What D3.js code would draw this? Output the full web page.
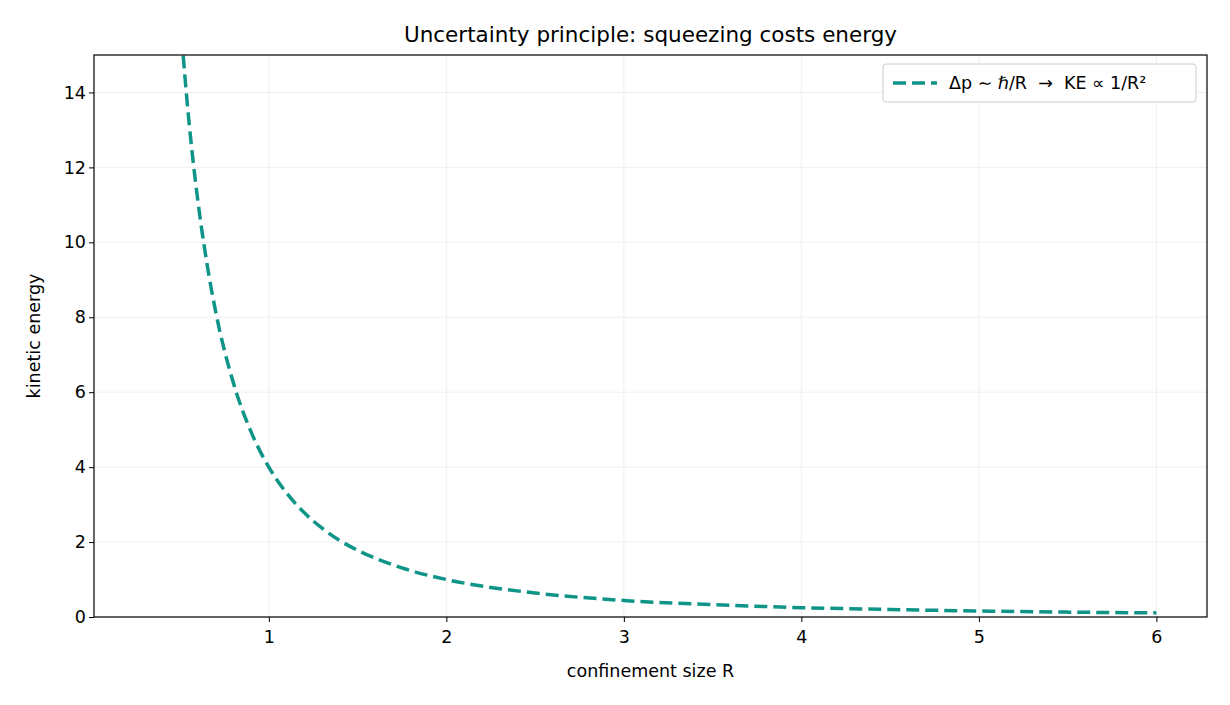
<!DOCTYPE html>
<html><head><meta charset="utf-8">
<script src="https://cdn.jsdelivr.net/npm/d3@7"></script>
<style>body{margin:0;background:#fff;font-family:"DejaVu Sans",sans-serif;}</style>
</head><body>
<svg id="chart" width="1230" height="705"></svg>
<script>
// values
var sizeR = [0.5,0.55,0.6,0.65,0.7,0.8,0.9,1.0,1.1,1.2,1.3,1.4,1.5,1.75,2,2.25,2.5,3,3.5,4,4.5,5,5.5,6];
var energy = [16,13.22,11.11,9.47,8.16,6.25,4.94,4,3.31,2.78,2.37,2.04,1.78,1.31,1,0.79,0.64,0.44,0.33,0.25,0.2,0.16,0.13,0.11];
var xTicks = [1,2,3,4,5,6];
var yTicks = [0,2,4,6,8,10,12,14];

var svg = d3.select("#chart");
var L = 94, R = 1207, T = 55, B = 617;
var x = d3.scaleLinear().domain([0.015, 6.285]).range([L, R]);
var y = d3.scaleLinear().domain([0, 15]).range([B, T]);

// grid
svg.append("g").selectAll("line").data(xTicks).enter().append("line")
  .attr("x1", d => x(d)).attr("x2", d => x(d)).attr("y1", T).attr("y2", B)
  .attr("stroke", "#ebebeb").attr("stroke-width", 0.8);
svg.append("g").selectAll("line").data(yTicks).enter().append("line")
  .attr("y1", d => y(d)).attr("y2", d => y(d)).attr("x1", L).attr("x2", R)
  .attr("stroke", "#ebebeb").attr("stroke-width", 0.8);

svg.append("clipPath").attr("id", "clip").append("rect")
  .attr("x", L).attr("y", T).attr("width", R - L).attr("height", B - T);

var pts = sizeR.map((r, i) => [r, energy[i]]);
svg.append("path").datum(pts)
  .attr("clip-path", "url(#clip)")
  .attr("d", d3.line().x(d => x(d[0])).y(d => y(d[1])).curve(d3.curveMonotoneX))
  .attr("fill", "none").attr("stroke", "#0f9488").attr("stroke-width", 3.5)
  .attr("stroke-dasharray", "13,6");

// axes
var xa = svg.append("g").attr("transform", "translate(0," + B + ")")
  .call(d3.axisBottom(x).tickValues(xTicks).tickFormat(d3.format("d")).tickSizeOuter(0).tickSize(5));
var ya = svg.append("g").attr("transform", "translate(" + L + ",0)")
  .call(d3.axisLeft(y).tickValues(yTicks).tickFormat(d3.format("d")).tickSizeOuter(0).tickSize(5));
[xa, ya].forEach(function(a) {
  a.select(".domain").remove();
  a.selectAll("text").attr("font-size", 17.5).attr("fill", "#000").attr("font-family", "DejaVu Sans");
  a.selectAll("line").attr("stroke", "#000");
});
xa.selectAll("text").attr("dy", "1.05em");

svg.append("rect").attr("x", L).attr("y", T).attr("width", R - L).attr("height", B - T)
  .attr("fill", "none").attr("stroke", "#000").attr("stroke-width", 1.2);

svg.append("text").attr("x", (L + R) / 2).attr("y", 42).attr("text-anchor", "middle")
  .attr("font-size", 21.5).text("Uncertainty principle: squeezing costs energy");
svg.append("text").attr("x", (L + R) / 2).attr("y", 677).attr("text-anchor", "middle")
  .attr("font-size", 17.5).text("confinement size R");
svg.append("text").attr("transform", "translate(40," + (T + B) / 2 + ") rotate(-90)")
  .attr("text-anchor", "middle").attr("font-size", 17.5).text("kinetic energy");

// legend
var lg = svg.append("g");
lg.append("rect").attr("x", 883).attr("y", 64).attr("width", 313).attr("height", 38).attr("rx", 3)
  .attr("fill", "#fff").attr("stroke", "#ccc");
lg.append("line").attr("x1", 893).attr("x2", 937).attr("y1", 83).attr("y2", 83)
  .attr("stroke", "#0f9488").attr("stroke-width", 3.5).attr("stroke-dasharray", "13,6");
lg.append("text").attr("x", 949).attr("y", 89).attr("font-size", 17.5)
  .style("white-space", "pre")
  .text("Δp ∼ ℏ/R  →  KE ∝ 1/R²");
</script>
</body></html>
